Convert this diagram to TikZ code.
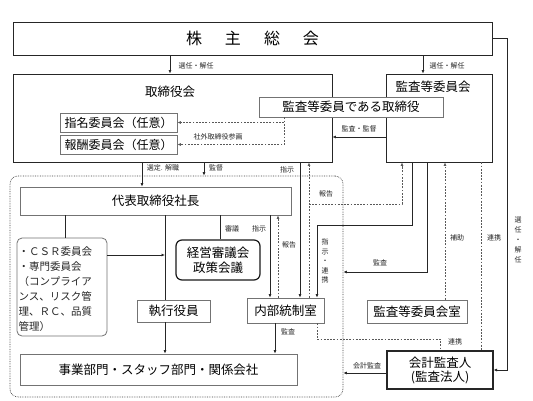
\documentclass[tikz,border=0pt]{standalone}
\usepackage{fontspec}
\setmainfont{Noto Sans CJK JP}
\usetikzlibrary{arrows.meta,calc}
\begin{document}
\begin{tikzpicture}[x=1pt,y=-1pt,
  major/.style={draw=black!85, line width=0.9pt, inner sep=0pt, fill=white},
  minor/.style={draw=black!55, line width=0.8pt, inner sep=0pt, fill=white},
  lbl/.style={font=\fontsize{7}{8}\selectfont, text=black!85, inner sep=0.5pt},
  vlbl/.style={font=\fontsize{7}{10}\selectfont, text=black!85, inner sep=0pt, align=center},
  txt/.style={font=\fontsize{12.5}{14}\selectfont},
  arr/.style={draw=black!85, line width=0.9pt, -{Latex[length=3.5pt,width=3pt]}},
  ln/.style={draw=black!85, line width=0.9pt},
  darr/.style={draw=black!65, line width=0.7pt, dash pattern=on 1.8pt off 1.4pt, -{Latex[length=3.5pt,width=3pt]}},
  dln/.style={draw=black!65, line width=0.7pt, dash pattern=on 1.8pt off 1.4pt},
]
\fill[white] (0,0) rectangle (533,400);
\useasboundingbox (0,0) rectangle (533,400);

% column / row helper coordinates
\foreach \x in {65,142,165,170,204,220,270,275,278,284,300,309,317,402,412,423,427,440,445,481,507}
  {\coordinate (c\x) at (\x,0);}
\foreach \y in {137,204,225,255,272,339,373}
  {\coordinate (r\y) at (0,\y);}

% group (dotted)
\node[draw=black!75, line width=0.7pt, densely dotted, rounded corners=8pt, inner sep=0pt,
      minimum width=333pt, minimum height=221pt] (grp) at (176.5,286.5) {};

% top level
\node[major, minimum width=479pt, minimum height=33pt, font=\fontsize{16}{18}\selectfont]
  (kabu) at (252.5,38.5) {株\hspace{23pt}主\hspace{23pt}総\hspace{23pt}会};
\node[major, minimum width=319pt, minimum height=88pt] (tori) at (172.5,118) {};
\node[txt] (toriT) at (170,92) {取締役会};
\node[major, minimum width=106pt, minimum height=88pt] (kansa) at (439,118) {};
\node[txt] (kansaT) at (433,87) {監査等委員会};
\node[minor, minimum width=184pt, minimum height=20pt, txt] (kansatori) at (351,107) {監査等委員である取締役};
\node[minor, minimum width=117pt, minimum height=19pt, font=\fontsize{12}{14}\selectfont] (shimei) at (118.5,122.5) {指名委員会（任意）};
\node[minor, minimum width=117pt, minimum height=19pt, font=\fontsize{12}{14}\selectfont] (houshu) at (118.5,144.5) {報酬委員会（任意）};

% executive group
\node[minor, minimum width=271pt, minimum height=28pt, txt] (daihyo) at (155.5,201) {代表取締役社長};
\node[draw=black!55, line width=0.8pt, rounded corners=5pt, fill=white, inner sep=0pt,
      minimum width=90pt, minimum height=98pt] (csr) at (62,287) {};
\node[anchor=north west, inner sep=0pt, align=left, font=\fontsize{10.5}{15}\selectfont, text=black!85]
  (csrT) at (18.5,246) {・ＣＳＲ委員会\\・専門委員会\\（コンプライア\\ンス、リスク管\\理、ＲＣ、品質\\管理）};
\node[draw=black!90, line width=1.2pt, rounded corners=6pt, fill=white, inner sep=0pt,
      minimum width=84pt, minimum height=40pt, align=center, font=\fontsize{12.5}{15}\selectfont]
  (keiei) at (218,260) {経営審議会\\政策会議};
\node[minor, minimum width=73pt, minimum height=22pt, txt] (shikko) at (173.5,311) {執行役員};
\node[minor, minimum width=77pt, minimum height=25pt, txt] (naibu) at (285.5,310.5) {内部統制室};
\node[minor, minimum width=277pt, minimum height=31pt, txt] (jigyo) at (158.5,369.5) {事業部門・スタッフ部門・関係会社};
\node[minor, minimum width=100pt, minimum height=23pt, txt] (kansashitsu) at (417,311.5) {監査等委員会室};
\node[major, line width=1.1pt, minimum width=106pt, minimum height=38pt, align=center,
      font=\fontsize{12.5}{14}\selectfont] (kaikei) at (440,370) {会計監査人\\(監査法人)};

% shareholders' meeting connectors
\draw[arr] (kabu.south -| c170) -- (tori.north -| c170);
\node[lbl] (l1) at (196,66) {選任・解任};
\draw[arr] (kabu.south -| c423) -- (kansa.north -| c423);
\node[lbl] (l2) at (447,66) {選任・解任};
\draw[arr] (kabu.east) -- (kabu.east -| c507) -- (c507 |- kaikei.east) -- (kaikei.east);
\node[vlbl] (l3) at (518,240) {選\\任\\・\\解\\任};

% board level
\draw[arr] (kansa.west |- r137) -- (tori.east |- r137);
\node[lbl] (l4) at (359,129) {監査・監督};
\draw[darr] (kansatori.south -| c284) |- (houshu.east);
\draw[darr] (shimei.east -| c284) -- (shimei.east);
\node[lbl] (l5) at (218,137) {社外取締役参画};

\draw[arr] (tori.south -| c142) -- (daihyo.north -| c142);
\node[lbl] (l6) at (163,168) {選定. 解職};
\draw[arr] (tori.south -| c204) -- (grp.north -| c204);
\node[lbl] (l7) at (216,168) {監督};

% president connectors
\draw[ln] (daihyo.south -| c65) -- (csr.north -| c65);
\draw[ln] (daihyo.south -| c165) -- (shikko.north -| c165);
\draw[arr] (csr.east |- r255) -- (c165 |- r255);
\draw[ln] (daihyo.south -| c220) -- (keiei.north -| c220);
\node[lbl] (l8) at (232,229) {審議};
\draw[arr] (daihyo.south -| c270) -- (naibu.north -| c270);
\node[lbl] (l9) at (259,229) {指示};
\draw[darr] (naibu.north -| c278) -- (daihyo.south -| c278);
\node[lbl] (l10) at (289,245) {報告};
\draw[arr] (shikko.south -| c165) -- (jigyo.north -| c165);

% board <-> internal control
\draw[arr] (tori.south -| c300) -- (naibu.north -| c300);
\node[lbl] (l11) at (287,170) {指示};
\draw[darr] (naibu.north -| c309) -- (tori.south -| c309);
\draw[darr] (c309 |- r204) -- (c402 |- r204) -- (kansa.south -| c402);
\node[lbl] (l12) at (326,194) {報告};

% audit committee connectors
\draw[arr] (kansa.south -| c412) -- (c412 |- r225) -- (c317 |- r225) -- (naibu.north -| c317);
\node[vlbl, font=\fontsize{7}{9.5}\selectfont] (l13) at (325,261) {指\\示\\・\\連\\携};
\draw[arr] (kansa.south -| c427) -- (c427 |- r272) -- (grp.east |- r272);
\node[lbl] (l14) at (380,263) {監査};
\draw[darr] (kansashitsu.north -| c445) -- (kansa.south -| c445);
\node[lbl] (l15) at (457,238) {補助};
\draw[dln] (kansa.south -| c481) -- (kaikei.north -| c481);
\node[lbl] (l16) at (494,238) {連携};

% internal control / accounting auditor
\draw[dln] (naibu.south -| c317) -- (c317 |- r339) -- (c440 |- r339) -- (kaikei.north -| c440);
\node[lbl] (l17) at (455,342) {連携};
\draw[arr] (naibu.south -| c275) -- (jigyo.north -| c275);
\node[lbl] (l18) at (288,332) {監査};
\draw[arr] (kaikei.west |- r373) -- (grp.east |- r373);
\node[lbl] (l19) at (367,366) {会計監査};
\end{tikzpicture}
\end{document}
